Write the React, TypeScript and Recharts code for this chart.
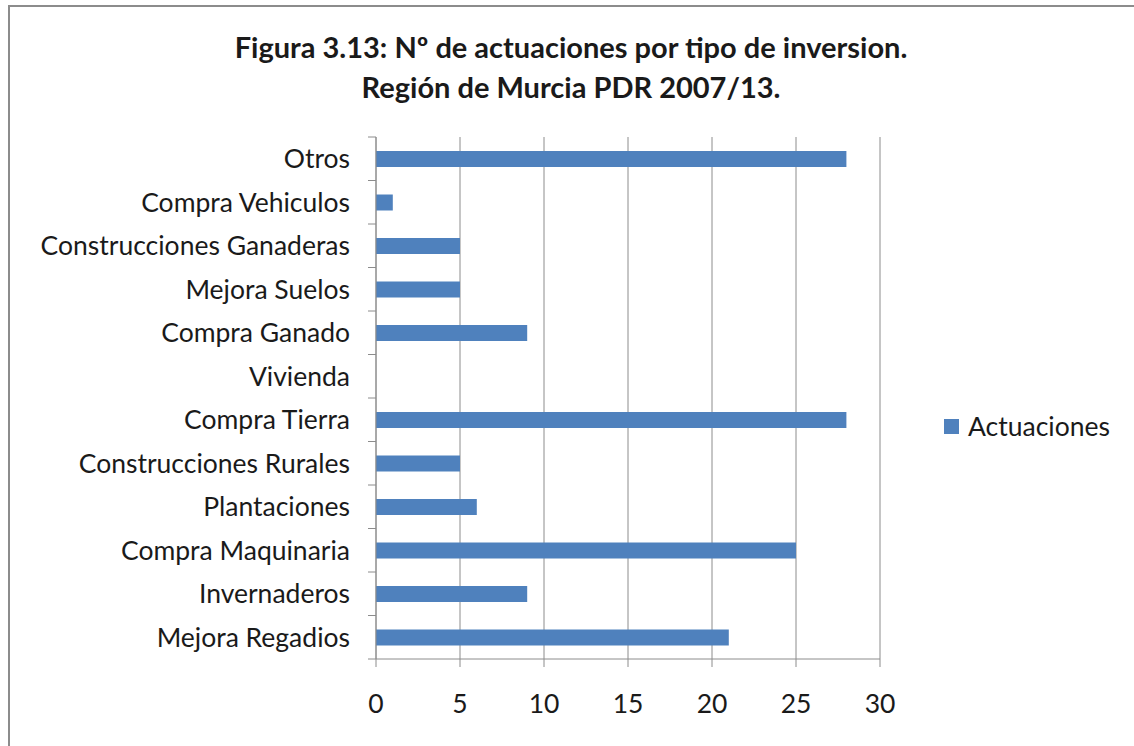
import React from "react";
import { BarChart, Bar, XAxis, YAxis, CartesianGrid, Legend } from "recharts";

const categories = [
  "Otros",
  "Compra Vehiculos",
  "Construcciones Ganaderas",
  "Mejora Suelos",
  "Compra Ganado",
  "Vivienda",
  "Compra Tierra",
  "Construcciones Rurales",
  "Plantaciones",
  "Compra Maquinaria",
  "Invernaderos",
  "Mejora Regadios",
];
const actuaciones = [28, 1, 5, 5, 9, 0, 28, 5, 6, 25, 9, 21];
const xTicks = [0, 5, 10, 15, 20, 25, 30];
const seriesName = "Actuaciones";
const titleLines = [
  "Figura 3.13: Nº de actuaciones por tipo de inversion.",
  "Región de Murcia PDR 2007/13.",
];

const data = categories.map((name, i) => ({ name, value: actuaciones[i] }));

const FONT = "Lato, 'Open Sans', sans-serif";
const LINE = "#8c8c8c";
const BAR = "#4F81BD";
const W = 1134;
const H = 746;
const MARGIN = { top: 137, right: 254, bottom: 47, left: 16 };
const Y_W = 360;
const X_H = 40;
const PLOT_H = H - MARGIN.top - MARGIN.bottom - X_H;
const BAND = PLOT_H / categories.length;

const YTick = (props: any) => {
  const { x, y, payload, index } = props;
  const top = y - BAND / 2;
  const bottom = y + BAND / 2;
  return (
    <g>
      <line x1={x - 8} x2={x} y1={top} y2={top} stroke={LINE} strokeWidth={1} />
      {index === categories.length - 1 && (
        <line x1={x - 8} x2={x} y1={bottom} y2={bottom} stroke={LINE} strokeWidth={1} />
      )}
      <text
        x={x - 26}
        y={y}
        dy="0.35em"
        textAnchor="end"
        fill="#1a1a1a"
        fontSize={26.5}
        fontFamily={FONT}
      >
        {payload.value}
      </text>
    </g>
  );
};

const LegendContent = (props: any) => {
  const { payload } = props;
  return (
    <div style={{ fontFamily: FONT }}>
      {(payload || []).map((p: any) => (
        <div key={p.value} style={{ display: "flex", alignItems: "center" }}>
          <span
            style={{
              display: "inline-block",
              width: 15,
              height: 15,
              background: p.color,
              marginRight: 9,
            }}
          />
          <span style={{ fontSize: 26.5, color: "#1a1a1a", lineHeight: "30px" }}>{p.value}</span>
        </div>
      ))}
    </div>
  );
};

export default function App() {
  return (
    <div
      style={{
        position: "absolute",
        left: 0,
        top: 0,
        width: W,
        height: H,
        overflow: "hidden",
        background: "#fff",
      }}
    >
      <div
        style={{
          position: "absolute",
          left: 8,
          top: 5,
          width: W + 40,
          height: H + 40,
          border: `2px solid ${LINE}`,
          boxSizing: "border-box",
        }}
      />
      <div
        style={{
          position: "absolute",
          left: 8,
          top: 27,
          width: W - 8,
          textAlign: "center",
          fontFamily: FONT,
          fontWeight: 700,
          fontSize: 29,
          lineHeight: "40px",
          color: "#1a1a1a",
        }}
      >
        {titleLines.map((t) => (
          <div key={t}>{t}</div>
        ))}
      </div>
      <div style={{ position: "absolute", left: 0, top: 0 }}>
        <BarChart width={W} height={H} data={data} layout="vertical" margin={MARGIN}>
          <CartesianGrid horizontal={false} stroke={LINE} strokeDasharray="" />
          <XAxis
            type="number"
            domain={[0, 30]}
            ticks={xTicks}
            interval={0}
            height={X_H}
            stroke={LINE}
            tickSize={8}
            tickMargin={27}
            tick={{ fill: "#1a1a1a", fontSize: 26.5, fontFamily: FONT }}
          />
          <YAxis
            type="category"
            dataKey="name"
            width={Y_W}
            stroke={LINE}
            tickLine={false}
            tickSize={0}
            tickMargin={0}
            interval={0}
            tick={<YTick />}
          />
          <Legend
            layout="horizontal"
            verticalAlign="middle"
            align="center"
            wrapperStyle={{ position: "absolute", left: 944, top: 411, width: 190 }}
            content={<LegendContent />}
          />
          <Bar dataKey="value" name={seriesName} fill={BAR} barSize={16} isAnimationActive={false} />
        </BarChart>
      </div>
    </div>
  );
}
